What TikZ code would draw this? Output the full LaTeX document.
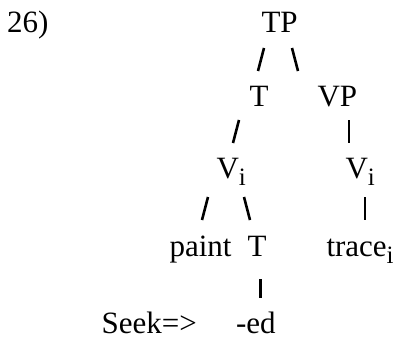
\documentclass[tikz,border=0pt]{standalone}
\usepackage{fontspec}
\setmainfont{Liberation Serif}
\newcommand\subi[1]{\raisebox{-7pt}{\fontsize{25}{25}\selectfont #1}}
\begin{document}
\begin{tikzpicture}[x=1pt,y=-1pt,
  lbl/.style={anchor=base west,inner sep=0pt,outer sep=0pt,font=\fontsize{31}{37}\selectfont},
  branch/.style={line width=2.6pt,line cap=butt}]
\useasboundingbox (0,0) rectangle (396,337);
% labels
\node[lbl] (ex)    at (7,33)      {26)};
\node[lbl] (tp)    at (261.5,33)  {TP};
\node[lbl] (t1)    at (249.5,106) {T};
\node[lbl] (vp)    at (317.5,106) {VP};
\node[lbl] (vi1)   at (216.5,178) {V\subi{i}};
\node[lbl] (vi2)   at (345.5,178) {V\subi{i}};
\node[lbl] (paint) at (169.5,256) {paint};
\node[lbl] (t2)    at (247.5,256) {T};
\node[lbl] (trace) at (326.5,256) {trace\subi{i}};
\node[lbl] (seek)  at (101.7,333) {Seek=>};
\node[lbl] (ed)    at (236,333)   {-ed};
% branch strokes
\coordinate (a1) at (264,48);  \coordinate (a2) at (258,71);
\coordinate (b1) at (292,48);  \coordinate (b2) at (298,71);
\coordinate (c1) at (239,120); \coordinate (c2) at (233,143);
\coordinate (d1) at (349,120); \coordinate (d2) at (349,143);
\coordinate (e1) at (208,197); \coordinate (e2) at (202,220);
\coordinate (f1) at (244,197); \coordinate (f2) at (250,220);
\coordinate (g1) at (365,197); \coordinate (g2) at (365,220);
\coordinate (h1) at (260.5,279); \coordinate (h2) at (260.5,298);
\draw[branch] (a1) -- (a2);
\draw[branch] (b1) -- (b2);
\draw[branch] (c1) -- (c2);
\draw[branch] (d1) -- (d2);
\draw[branch] (e1) -- (e2);
\draw[branch] (f1) -- (f2);
\draw[branch] (g1) -- (g2);
\draw[branch] (h1) -- (h2);
\end{tikzpicture}
\end{document}
